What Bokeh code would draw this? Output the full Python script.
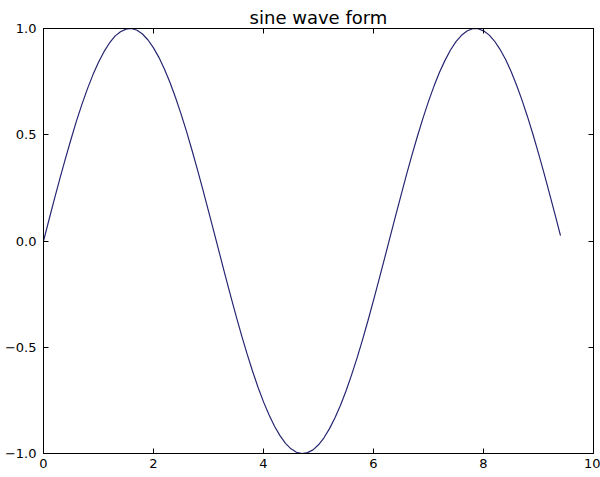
from bokeh.plotting import figure
from bokeh.models import Range1d, FixedTicker, LinearAxis
from bokeh.embed import file_html
from bokeh.resources import INLINE

x_vals = [round(i * 0.1, 1) for i in range(95)]
y_vals = [
    0.000, 0.100, 0.199, 0.296, 0.389, 0.479, 0.565, 0.644, 0.717, 0.783,
    0.841, 0.891, 0.932, 0.964, 0.985, 0.997, 1.000, 0.992, 0.974, 0.946,
    0.909, 0.863, 0.808, 0.746, 0.675, 0.598, 0.516, 0.427, 0.335, 0.239,
    0.141, 0.042, -0.058, -0.158, -0.256, -0.351, -0.443, -0.530, -0.612, -0.688,
    -0.757, -0.818, -0.872, -0.916, -0.952, -0.978, -0.994, -1.000, -0.996, -0.983,
    -0.959, -0.926, -0.883, -0.832, -0.773, -0.706, -0.631, -0.551, -0.465, -0.374,
    -0.279, -0.182, -0.083, 0.017, 0.117, 0.215, 0.312, 0.405, 0.494, 0.578,
    0.657, 0.729, 0.794, 0.850, 0.899, 0.938, 0.968, 0.988, 0.999, 0.999,
    0.989, 0.970, 0.941, 0.902, 0.855, 0.799, 0.734, 0.663, 0.585, 0.501,
    0.412, 0.319, 0.223, 0.125, 0.025,
]
x_ticks = [0, 2, 4, 6, 8, 10]
x_tick_labels = ["0", "2", "4", "6", "8", "10"]
y_ticks = [-1.0, -0.5, 0.0, 0.5, 1.0]
y_tick_labels = ["\u22121.0", "\u22120.5", "0.0", "0.5", "1.0"]
title_text = "sine wave form"

FONT = "DejaVu Sans"

p = figure(frame_width=550, frame_height=425, output_backend="svg", toolbar_location=None,
           x_range=Range1d(0, 10), y_range=Range1d(-1, 1),
           min_border_left=43, min_border_right=7, min_border_top=28, min_border_bottom=22,
           title=title_text)
p.title.text_font = FONT
p.title.text_font_size = "18px"
p.title.text_font_style = "normal"
p.title.align = "center"
p.title.standoff = 1
p.title.text_color = "black"

p.xgrid.visible = False
p.ygrid.visible = False
p.outline_line_color = "black"
p.outline_line_width = 1
p.background_fill_color = "white"
p.border_fill_color = "white"

def style_axis(ax, ticks, labels, show_labels):
    ax.ticker = FixedTicker(ticks=ticks)
    ax.major_label_overrides = {t: l for t, l in zip(ticks, labels)}
    ax.major_tick_in = 5
    ax.major_tick_out = 0
    ax.minor_tick_line_color = None
    ax.axis_line_color = "black"
    ax.major_tick_line_color = "black"
    ax.major_label_text_font = FONT
    ax.major_label_text_font_size = "13px"
    ax.major_label_text_color = "black" if show_labels else None
    ax.major_label_standoff = 7

style_axis(p.xaxis[0], x_ticks, x_tick_labels, True)
style_axis(p.yaxis[0], y_ticks, y_tick_labels, True)
p.xaxis[0].major_label_standoff = 5

top = LinearAxis()
style_axis(top, x_ticks, x_tick_labels, False)
top.major_label_text_font_size = "1px"
top.major_label_standoff = 0
p.add_layout(top, "above")

right = LinearAxis()
style_axis(right, y_ticks, y_tick_labels, False)
right.major_label_text_font_size = "1px"
right.major_label_standoff = 0
p.add_layout(right, "right")

p.line(x_vals, y_vals, line_color="#262673", line_width=1.2)

open("out.html", "w").write(file_html(p, INLINE))
